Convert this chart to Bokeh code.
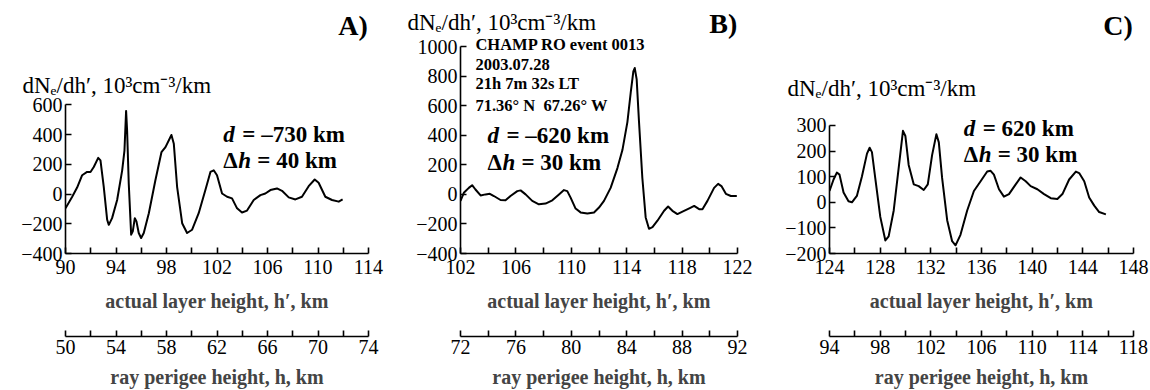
from bokeh.plotting import figure
from bokeh.layouts import row
from bokeh.models import Range1d, LinearAxis, FixedTicker, Label, Title
from bokeh.embed import file_html
from bokeh.resources import INLINE

# ---------------- data ----------------
# Panel A  (d = -730 km, dh = 40 km)
A_h = [90.0, 90.53, 90.92, 91.32, 91.71, 91.98, 92.24, 92.59, 92.77, 93.03, 93.3, 93.43,
       93.69, 94.09, 94.49, 94.67, 94.8, 94.88, 95.01, 95.2, 95.33, 95.49, 95.62, 95.8,
       95.99, 96.2, 96.6, 97.12, 97.6, 97.92, 98.39, 98.58, 98.84, 99.24, 99.63, 100.03,
       100.55, 101.08, 101.48, 101.74, 102.0, 102.4, 102.8, 103.19, 103.59, 103.98, 104.38,
       104.91, 105.44, 105.83, 106.23, 106.75, 107.15, 107.68, 108.21, 108.73, 109.26,
       109.74, 110.05, 110.58, 111.11, 111.64, 111.95]
A_v = [-96, -18, 44, 127, 149, 149, 182, 244, 227, 49, -173, -207,
       -162, -40, 160, 293, 560, 427, 71, -273, -251, -162, -184, -262,
       -296, -262, -129, 93, 282, 316, 398, 338, 49, -196, -262, -240,
       -129, 27, 149, 160, 127, 4, -18, -29, -96, -124, -111,
       -40, -7, 4, 27, 38, 22, -22, -36, -18, 53,
       98, 76, -18, -40, -51, -36]

# Panel B  (d = -620 km, dh = 30 km)
B_h = [102.0, 102.24, 102.6, 102.84, 103.08, 103.45, 103.81, 104.12, 104.41, 104.89, 105.25,
       105.61, 106.1, 106.34, 106.7, 107.18, 107.66, 108.14, 108.63, 109.11, 109.47, 109.71,
       109.95, 110.31, 110.67, 111.16, 111.64, 112.0, 112.36, 112.84, 113.33, 113.69, 114.05,
       114.29, 114.48, 114.58, 114.72, 114.89, 115.13, 115.37, 115.61, 115.86, 116.22, 116.7,
       116.99, 117.3, 117.66, 118.14, 118.63, 118.87, 119.23, 119.47, 119.83, 120.31, 120.6,
       120.84, 121.16, 121.52, 121.95]
B_v = [-44, 11, 44, 62, 33, -7, 0, 4, -11, -38, -40,
       -11, 22, 27, 0, -44, -67, -62, -40, 0, 29, 22,
       -22, -96, -122, -129, -122, -89, -44, 44, 178, 300, 489,
       689, 833, 855, 778, 489, 111, -156, -233, -222, -178, -111,
       -82, -111, -133, -111, -89, -78, -100, -100, -44, 44, 71,
       56, 4, -11, -11]

# Panel C  (d = 620 km, dh = 30 km)
C_h = [124.0, 124.32, 124.58, 124.79, 125.11, 125.5, 125.77, 126.16, 126.56, 126.96, 127.17,
       127.35, 127.61, 128.01, 128.41, 128.67, 129.07, 129.46, 129.8, 129.99, 130.25, 130.65,
       131.04, 131.44, 131.76, 132.1, 132.44, 132.63, 132.89, 133.29, 133.68, 133.95, 134.34,
       134.87, 135.4, 135.93, 136.45, 136.72, 136.98, 137.38, 137.77, 138.17, 138.7, 139.09,
       139.49, 139.88, 140.41, 140.94, 141.47, 141.99, 142.39, 142.92, 143.45, 143.71, 144.11,
       144.5, 144.9, 145.29, 145.82]
C_v = [44, 89, 116, 108, 38, 4, 0, 25, 101, 190, 213,
       196, 95, -57, -149, -133, -32, 133, 279, 259, 146, 70,
       63, 48, 70, 184, 266, 234, 95, -70, -152, -168, -127,
       -32, 44, 82, 120, 123, 108, 51, 22, 32, 70, 97,
       82, 63, 51, 32, 16, 13, 32, 89, 120, 114, 82,
       19, -13, -38, -47]

# axis ticks (major = labelled, minor = unlabelled)
A_xticks = [90, 94, 98, 102, 106, 110, 114]
A_xminor = [92, 96, 100, 104, 108, 112]
A_hticks = [50, 54, 58, 62, 66, 70, 74]
A_hminor = [52, 56, 60, 64, 68, 72]
A_yticks = [-400, -200, 0, 200, 400, 600]

B_xticks = [102, 106, 110, 114, 118, 122]
B_xminor = [104, 108, 112, 116, 120]
B_hticks = [72, 76, 80, 84, 88, 92]
B_hminor = [74, 78, 82, 86, 90]
B_yticks = [-400, -200, 0, 200, 400, 600, 800, 1000]

C_xticks = [124, 128, 132, 136, 140, 144, 148]
C_xminor = [126, 130, 134, 138, 142, 146]
C_hticks = [94, 98, 102, 106, 110, 114, 118]
C_hminor = [96, 100, 104, 108, 112, 116]
C_yticks = [-200, -100, 0, 100, 200, 300]

Y_LABEL = "dNₑ/dh′, 10³cm⁻³/km"
X1_LABEL = "actual layer height, h′, km"
X2_LABEL = "ray perigee height, h, km"
B_INFO = ["CHAMP RO event 0013", "2003.07.28", "21h 7m 32s LT", "71.36° N\u00a0\u00a067.26° W"]

SERIF = "Liberation Serif"
HEIGHT = 390
BOTTOM = 132
YLAB_SIZE = "23px"


def minus(ticks):
    return {t: ("−" + str(abs(t))) for t in ticks if t < 0}


def panel(h, v, xt, xm, ht, hm, yt, yrange, width, bl, br, ylab, letter, letter_xy):
    p = figure(width=width, height=HEIGHT, x_range=Range1d(xt[0], xt[-1]),
               y_range=Range1d(*yrange), output_backend="svg", toolbar_location=None,
               min_border_left=bl, min_border_right=br, min_border_top=0,
               min_border_bottom=BOTTOM)
    p.outline_line_color = None
    p.grid.visible = False

    # y-axis title: sits above the axis, starting left of it (drawn down into the plot area)
    offset, standoff = ylab
    p.add_layout(Title(text=Y_LABEL, align="left", offset=offset, standoff=standoff,
                       text_font=SERIF, text_font_style="normal",
                       text_font_size=YLAB_SIZE, text_color="black"), "above")

    p.add_layout(Label(x=letter_xy[0], y=letter_xy[1], text=letter, text_align="right",
                       text_baseline="middle", text_font=SERIF, text_font_style="bold",
                       text_font_size="28px", text_color="black"))

    ya = p.yaxis[0]
    ya.ticker = FixedTicker(ticks=yt)
    ya.bounds = (yt[0], yt[-1])
    ya.major_label_overrides = minus(yt)
    ya.major_tick_in = 6
    ya.major_tick_out = 0
    ya.minor_tick_line_color = None
    ya.major_label_standoff = 3
    ya.major_label_text_font = SERIF
    ya.major_label_text_font_size = "20px"
    ya.major_label_text_color = "black"
    ya.axis_line_width = 1.6
    ya.major_tick_line_width = 1.6

    xa = p.xaxis[0]
    xa.ticker = FixedTicker(ticks=xt, minor_ticks=xm)
    xa.bounds = (xt[0], xt[-1])
    xa.major_tick_in = 6
    xa.major_tick_out = 0
    xa.minor_tick_in = 6
    xa.minor_tick_out = 0
    xa.major_label_standoff = 6
    xa.major_label_text_font = SERIF
    xa.major_label_text_font_size = "20px"
    xa.major_label_text_color = "black"
    xa.axis_label = X1_LABEL
    xa.axis_label_text_font = SERIF
    xa.axis_label_text_font_style = "bold"
    xa.axis_label_text_font_size = "20px"
    xa.axis_label_standoff = 13
    xa.axis_line_width = 1.6
    xa.major_tick_line_width = 1.6
    xa.minor_tick_line_width = 1.6

    # spacer between the two lower axes
    p.add_layout(Title(text=" ", text_font_size="10px", standoff=9), "below")

    p.extra_x_ranges = {"perigee": Range1d(ht[0], ht[-1])}
    xb = LinearAxis(x_range_name="perigee",
                    ticker=FixedTicker(ticks=ht, minor_ticks=hm),
                    bounds=(ht[0], ht[-1]),
                    major_tick_in=6, major_tick_out=0,
                    minor_tick_in=6, minor_tick_out=0,
                    major_label_standoff=3,
                    major_label_text_font=SERIF,
                    major_label_text_font_size="20px",
                    major_label_text_color="black",
                    axis_label=X2_LABEL,
                    axis_label_text_font=SERIF,
                    axis_label_text_font_style="bold",
                    axis_label_text_font_size="20px",
                    axis_label_standoff=9,
                    axis_line_width=1.6, major_tick_line_width=1.6,
                    minor_tick_line_width=1.6)
    p.add_layout(xb, "below")

    p.line(h, v, line_color="black", line_width=2, line_join="round")
    return p


def dlabels(p, x, y1, y2, dtext, htext, size):
    common = dict(text_baseline="middle", text_font=SERIF, text_font_size=size,
                  text_color="black", text_align="left")
    p.add_layout(Label(x=x, y=y1, text="d", text_font_style="bold italic", **common))
    p.add_layout(Label(x=x, y=y1, x_offset=19, text=dtext, text_font_style="bold", **common))
    p.add_layout(Label(x=x, y=y2, text="Δ", text_font_style="bold", **common))
    p.add_layout(Label(x=x, y=y2, x_offset=15, text="h", text_font_style="bold italic", **common))
    p.add_layout(Label(x=x, y=y2, x_offset=34, text=htext, text_font_style="bold", **common))


# Panel A: canvas x 0..395
pA = panel(A_h, A_v, A_xticks, A_xminor, A_hticks, A_hminor, A_yticks, (-400, 1303),
           395, 65, 27, (-43, -194), "A)", (113.95, 1138))
dlabels(pA, 102.5, 399, 227, "= –730 km", "= 40 km", "23px")

# Panel B: canvas x 395..765
pB = panel(B_h, B_v, B_xticks, B_xminor, B_hticks, B_hminor, B_yticks, (-400, 1312),
           370, 65, 28, (-53, -68), "B)", (121.98, 1159))
for t, yy in zip(B_INFO, [1013, 881, 748, 604]):
    pB.add_layout(Label(x=103.08, y=yy, text=t, text_align="left", text_baseline="middle",
                        text_font=SERIF, text_font_style="bold", text_font_size="16.5px",
                        text_color="black"))
dlabels(pB, 103.95, 396, 217, "= –620 km", "= 30 km", "23px")

# Panel C: canvas x 765..1150
pC = panel(C_h, C_v, C_xticks, C_xminor, C_hticks, C_hminor, C_yticks, (-200, 788),
           385, 64, 17, (-42, -200), "C)", (147.95, 692))
dlabels(pC, 134.6, 290, 187, "= 620 km", "= 30 km", "23px")

layout = row(pA, pB, pC)
open("out.html", "w").write(file_html(layout, INLINE))
